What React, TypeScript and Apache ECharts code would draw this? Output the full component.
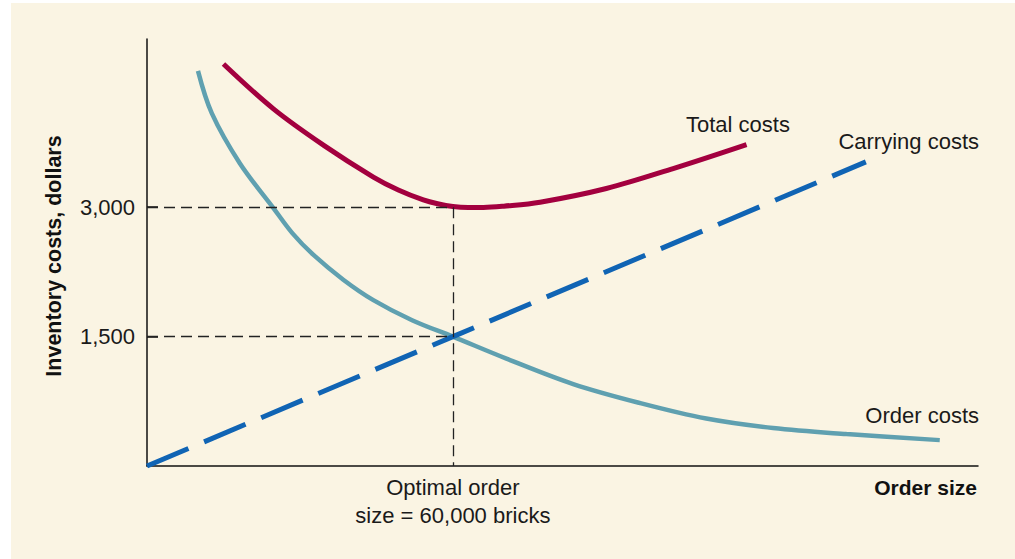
import React, { useEffect, useRef } from "react";
import * as echarts from "echarts";

// Order size (bricks) and costs (dollars)
const orderX = [10000, 12700, 18200, 24800, 28500, 32600, 38500, 44400, 52000, 60000, 70500, 83600, 96700, 109700, 122800, 137200, 155500];
const orderY = [4580, 4090, 3510, 2990, 2700, 2450, 2160, 1923, 1690, 1500, 1245, 950, 730, 550, 440, 370, 300];

const totalX = [15000, 24800, 34600, 44400, 49300, 54200, 57000, 60000, 63000, 66000, 70000, 77100, 90100, 103200, 117600];
const totalY = [4660, 4140, 3720, 3350, 3200, 3085, 3040, 3008, 2997, 2997, 3012, 3058, 3217, 3448, 3726];

const carryX = [0, 60000, 141000];
const carryY = [0, 1500, 3525];

const yTicks = [1500, 3000];
const optimalQ = 60000;
const optimalTotal = 3000;
const optimalEach = 1500;

const xMax = 163000;
const yMax = 4950;

const FONT = "'Liberation Sans', Arial, sans-serif";

export default function App() {
  const ref = useRef<HTMLDivElement>(null);
  useEffect(() => {
    document.body.style.margin = "0";
    const chart = echarts.init(ref.current!, undefined, { renderer: "svg" });
    const pairs = (xs: number[], ys: number[]) => xs.map((x, i) => [x, ys[i]]);
    chart.setOption({
      animation: false,
      backgroundColor: "#faf4e3",
      grid: { left: 136, top: 36, right: 37, bottom: 93 },
      xAxis: {
        type: "value",
        min: 0,
        max: xMax,
        splitLine: { show: false },
        axisLine: { show: true, lineStyle: { color: "#111", width: 1.5 } },
        axisTick: { show: false },
        axisLabel: {
          customValues: [optimalQ],
          formatter: () => "Optimal order\nsize = 60,000 bricks",
          fontFamily: FONT,
          fontSize: 22,
          lineHeight: 28,
          color: "#1a1a1a",
          margin: 7,
        },
      },
      yAxis: {
        type: "value",
        min: 0,
        max: yMax,
        splitLine: { show: false },
        axisLine: { show: true, lineStyle: { color: "#111", width: 1.5 } },
        axisTick: { show: true, inside: true, length: 11, customValues: yTicks, lineStyle: { color: "#111", width: 1.5 } },
        axisLabel: {
          customValues: yTicks,
          formatter: (v: number) => v.toLocaleString("en-US"),
          fontFamily: FONT,
          fontSize: 22,
          color: "#1a1a1a",
          margin: 12,
        },
      },
      series: [
        {
          name: "Guides",
          type: "line",
          data: [],
          markLine: {
            silent: true,
            symbol: "none",
            label: { show: false },
            lineStyle: { color: "#222", width: 1.3, type: [11, 6] },
            data: [
              [{ coord: [0, optimalTotal] }, { coord: [optimalQ, optimalTotal] }],
              [{ coord: [optimalQ, optimalTotal] }, { coord: [optimalQ, 0] }],
              [{ coord: [0, optimalEach] }, { coord: [optimalQ, optimalEach] }],
            ],
          },
        },
        {
          name: "Order costs",
          type: "line",
          data: pairs(orderX, orderY),
          smooth: 0.35,
          showSymbol: false,
          lineStyle: { color: "#5fa0b0", width: 4.5, cap: "butt" },
        },
        {
          name: "Carrying costs",
          type: "line",
          data: pairs(carryX, carryY),
          showSymbol: false,
          lineStyle: { color: "#1064b4", width: 5, type: [45, 17], cap: "butt" },
        },
        {
          name: "Total costs",
          type: "line",
          data: pairs(totalX, totalY),
          smooth: 0.35,
          showSymbol: false,
          lineStyle: { color: "#a3003f", width: 5, cap: "butt" },
        },
      ],
      graphic: [
        { type: "text", x: 675, y: 121.5, style: { text: "Total costs", font: `22px ${FONT}`, fill: "#1a1a1a", verticalAlign: "middle", align: "left" } },
        { type: "text", x: 968, y: 138, style: { text: "Carrying costs", font: `22px ${FONT}`, fill: "#1a1a1a", verticalAlign: "middle", align: "right" } },
        { type: "text", x: 968, y: 412.5, style: { text: "Order costs", font: `22px ${FONT}`, fill: "#1a1a1a", verticalAlign: "middle", align: "right" } },
        { type: "text", x: 966, y: 484.5, style: { text: "Order size", font: `bold 21px ${FONT}`, fill: "#111", verticalAlign: "middle", align: "right" } },
        { type: "text", x: 43, y: 253, rotation: Math.PI / 2, style: { text: "Inventory costs, dollars", font: `bold 21.5px ${FONT}`, fill: "#111", verticalAlign: "middle", align: "center" } },
      ],
    });
    return () => chart.dispose();
  }, []);
  return (
    <div style={{ position: "relative", width: 1015, height: 559, background: "#ffffff" }}>
      <div ref={ref} style={{ position: "absolute", left: 11, top: 3, width: 1004, height: 556 }} />
    </div>
  );
}
